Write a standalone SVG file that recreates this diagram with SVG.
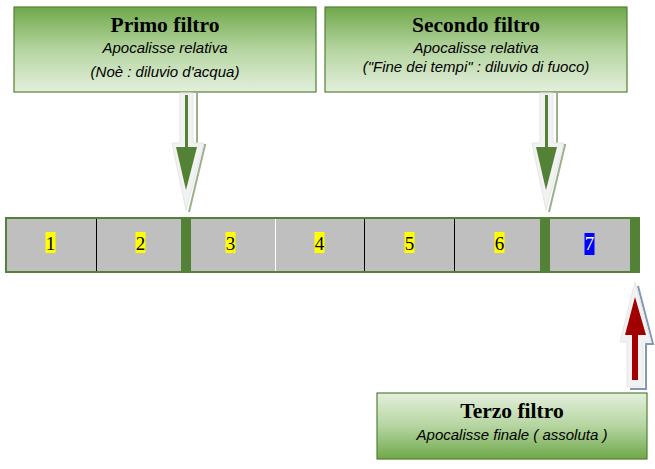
<svg xmlns="http://www.w3.org/2000/svg" width="655" height="469" viewBox="0 0 655 469">
<defs>
<linearGradient id="gDown" x1="0" y1="0" x2="0" y2="1">
<stop offset="0" stop-color="#6fa84a"/><stop offset="0.5" stop-color="#b5d5a0"/><stop offset="1" stop-color="#e3efdc"/>
</linearGradient>
<linearGradient id="gUp" x1="0" y1="1" x2="0" y2="0">
<stop offset="0" stop-color="#6fa84a"/><stop offset="0.5" stop-color="#b5d5a0"/><stop offset="1" stop-color="#e3efdc"/>
</linearGradient>
<style>
.box{stroke:#538135;stroke-width:1.2}
.title{font-family:"Liberation Serif",serif;font-weight:bold;font-size:21.5px;fill:#000;text-anchor:middle}
.sub{font-family:"Liberation Sans",sans-serif;font-style:italic;font-size:15px;fill:#000;text-anchor:middle}
.cell{fill:#bfbfbf}
.num{font-family:"Liberation Serif",serif;font-size:19px;fill:#000;text-anchor:middle}
.hl{fill:#ffff00}
</style>
</defs>
<g id="primo">
<rect class="box" x="14" y="7" width="302" height="85" fill="url(#gDown)"/>
<text class="title" x="165" y="32">Primo filtro</text>
<text class="sub" x="165" y="53">Apocalisse relativa</text>
<text class="sub" x="165" y="77">(Noè : diluvio d'acqua)</text>
</g>
<g id="secondo">
<rect class="box" x="325" y="7" width="302" height="85" fill="url(#gDown)"/>
<text class="title" x="476" y="32">Secondo filtro</text>
<text class="sub" x="476" y="53">Apocalisse relativa</text>
<text class="sub" x="476" y="72">("Fine dei tempi" : diluvio di fuoco)</text>
</g>
<g id="terzo">
<rect class="box" x="377" y="393" width="270" height="66" fill="url(#gUp)"/>
<text class="title" x="512" y="418">Terzo filtro</text>
<text class="sub" x="512" y="440">Apocalisse finale ( assoluta )</text>
</g>
<g id="barra">
<rect x="5" y="217" width="635" height="56" fill="#538135"/>
<rect class="cell" x="7" y="219" width="89" height="52"/>
<rect class="cell" x="97" y="219" width="84" height="52"/>
<rect class="cell" x="191" y="219" width="84" height="52"/>
<rect class="cell" x="276" y="219" width="88" height="52"/>
<rect class="cell" x="365" y="219" width="89" height="52"/>
<rect class="cell" x="455" y="219" width="85" height="52"/>
<rect class="cell" x="550" y="219" width="80" height="52"/>
<line x1="96.5" y1="219" x2="96.5" y2="271" stroke="#000"/>
<line x1="275.5" y1="219" x2="275.5" y2="271" stroke="#fff"/>
<line x1="364.5" y1="219" x2="364.5" y2="271" stroke="#000"/>
<line x1="454.5" y1="219" x2="454.5" y2="271" stroke="#000"/>
</g>
<g id="n1"><rect class="hl" x="45.5" y="232" width="10" height="21"/><text class="num" x="50.5" y="250">1</text></g>
<g id="n2"><rect class="hl" x="135.5" y="232" width="10" height="21"/><text class="num" x="140.5" y="250">2</text></g>
<g id="n3"><rect class="hl" x="225.5" y="232" width="10" height="21"/><text class="num" x="230.5" y="250">3</text></g>
<g id="n4"><rect class="hl" x="314.5" y="232" width="10" height="21"/><text class="num" x="319.5" y="250">4</text></g>
<g id="n5"><rect class="hl" x="404.5" y="232" width="10" height="21"/><text class="num" x="409.5" y="250">5</text></g>
<g id="n6"><rect class="hl" x="494.5" y="232" width="10" height="21"/><text class="num" x="499.5" y="250">6</text></g>
<g id="n7"><rect x="584.5" y="233" width="10" height="22" fill="#0000ff"/><text class="num" x="589.5" y="250" style="fill:#fff">7</text></g>
<g id="connectors">
<g id="freccia1">
<polyline points="197,93 197,145 205,145 189,212" fill="none" stroke="#9bb08c" stroke-width="2"/>
<path d="M180,93 H193 V143 H204 L186,210 L172,143 H180 Z" fill="#f2f2f2" stroke="#e6e6e6"/>
<rect x="185" y="95" width="3" height="52" fill="#538135"/>
<path d="M176,147 H197 L186,190 Z" fill="#538135"/>
</g>
<g id="freccia2">
<polyline points="557,93 557,145 565,145 549,212" fill="none" stroke="#9bb08c" stroke-width="2"/>
<path d="M540,93 H553 V143 H564 L546,210 L532,143 H540 Z" fill="#f2f2f2" stroke="#e6e6e6"/>
<rect x="545" y="95" width="3" height="52" fill="#538135"/>
<path d="M536,147 H557 L546,190 Z" fill="#538135"/>
</g>
<g id="freccia3">
<polyline points="638,286 653,344 646,344 646,389 630,389" fill="none" stroke="#8497b0" stroke-width="2"/>
<path d="M635,282 L651,342 H643 V387 H627 V342 H620 Z" fill="#f2f2f2" stroke="#e6e6e6"/>
<path d="M635,297 L646,335 H625 Z" fill="#a00000"/>
<rect x="632" y="333" width="6" height="47" fill="#a00000"/>
</g>
</g>
</svg>
